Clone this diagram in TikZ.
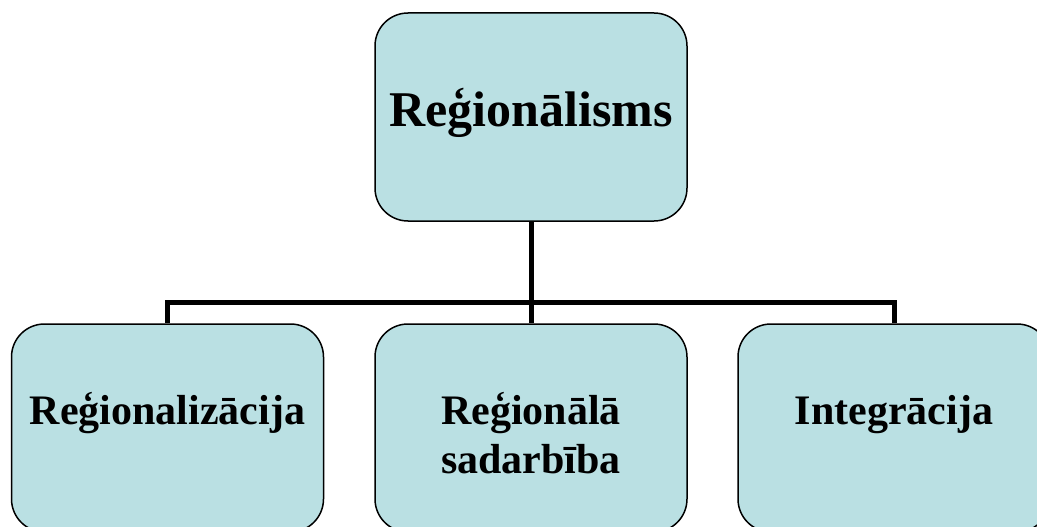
\documentclass[tikz,border=0pt]{standalone}
\usepackage{fontspec}
\setmainfont{Liberation Serif}
\definecolor{boxfill}{RGB}{186,224,227}
\begin{document}
\begin{tikzpicture}[x=1pt,y=-1pt,
  orgbox/.style={draw=black, line width=1.5pt, fill=boxfill, rounded corners=33pt,
    minimum width=312pt, minimum height=208pt, inner sep=0pt},
  toptext/.style={inner sep=0pt, anchor=base, font=\bfseries\fontsize{50}{58}\selectfont},
  subtext/.style={inner sep=0pt, anchor=base, align=center, font=\bfseries\fontsize{42}{49}\selectfont},
  link/.style={line width=5pt, line join=miter}]
\useasboundingbox (0,0) rectangle (1037,527);
\clip (0,0) rectangle (1037,527);
% root and children
\node[orgbox] (root)  at (531,117)   {};
\node[orgbox] (left)  at (167.5,428) {};
\node[orgbox] (mid)   at (531,428)   {};
\node[orgbox] (right) at (894,428)   {};
% box texts, placed on their baselines (base of a two-line node is its last line)
\node[toptext] (rootlbl)  at ([yshift=-9pt]root.center)  {Reģionālisms};
\node[subtext] (leftlbl)  at ([yshift=4pt]left.center)   {Reģionalizācija};
\node[subtext] (midlbl)   at ([yshift=-45pt]mid.center)  {Reģionālā\\sadarbība};
\node[subtext] (rightlbl) at ([yshift=4pt]right.center)  {Integrācija};
% tree connectors
\coordinate (bus) at (531,302);
\draw[link] (root.south) -- (bus);
\draw[link] (left.north) |- (bus) -| (right.north);
\draw[link] (bus) -- (mid.north);
\end{tikzpicture}
\end{document}
